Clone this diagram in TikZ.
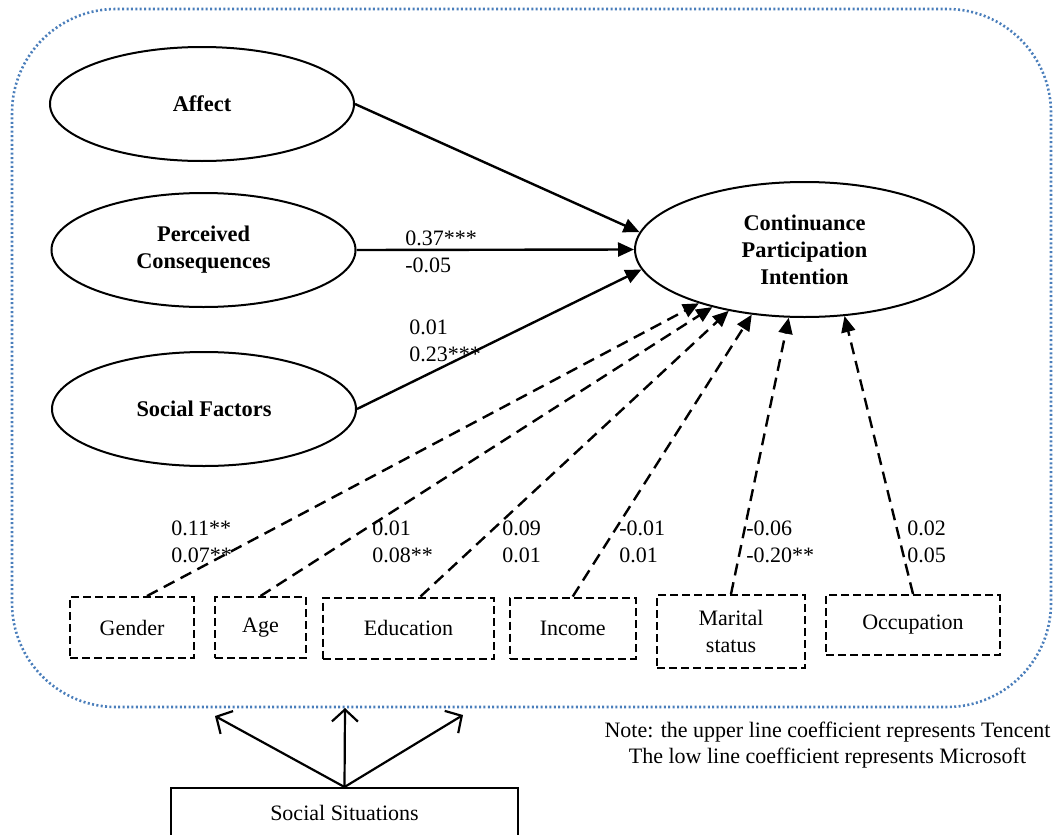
\documentclass[tikz,border=0pt]{standalone}
\usepackage{fontspec}
\setmainfont{Liberation Serif}
\usetikzlibrary{shapes.geometric,arrows.meta}
\definecolor{dotblue}{RGB}{74,126,187}
\begin{document}
\begin{tikzpicture}[x=0.5pt,y=-0.5pt,
	every node/.style={font=\fontsize{11}{13.5}\selectfont},
	latent/.style={draw,ellipse,line width=1pt,inner sep=0pt,align=center,font=\fontsize{11.2}{13.5}\selectfont\bfseries},
	ctrl/.style={draw,dash pattern=on 4pt off 2pt,line width=1pt,inner sep=0pt,align=center},
	coef/.style={anchor=west,align=left,inner sep=0pt},
	solidarr/.style={line width=1.2pt,-{Triangle[length=8pt,width=7pt]}},
	dasharr/.style={line width=1.2pt,dash pattern=on 6pt off 3.5pt,-{Triangle[length=8pt,width=7pt]}},
	openarr/.style={line width=1.1pt,-{Straight Barb[length=6pt,width=13pt]}}]
	\useasboundingbox (0,0) rectangle (1060,835);
	\draw[dotblue,line width=1.3pt,dash pattern=on 1pt off 1.2pt,rounded corners=52pt] (12,9) rectangle (1051,707);
	% constructs
	\node[latent,minimum width=152pt,minimum height=57pt] (aff) at (202,104){Affect};
	\node[latent,minimum width=152pt,minimum height=57pt] (pc) at (203.5,250){Perceived\\Consequences};
	\node[latent,minimum width=152pt,minimum height=57pt] (sf) at (204,409){Social Factors};
	\node[latent,minimum width=169.5pt,minimum height=67.5pt] (cpi) at (804.5,249.5){Continuance\\Participation\\Intention};
	% controls
	\node[ctrl,minimum width=62pt,minimum height=30.5pt] (gen) at (132,627.5){Gender};
	\node[ctrl,minimum width=45.5pt,minimum height=30.5pt] (age) at (260.5,627.5){Age};
	\node[ctrl,minimum width=85.5pt,minimum height=30.5pt] (edu) at (408.5,628){Education};
	\node[ctrl,minimum width=62.75pt,minimum height=30.5pt] (inc) at (572.75,628){Income};
	\node[ctrl,minimum width=74pt,minimum height=36.5pt] (mar) at (731,631.5){Marital\\status};
	\node[ctrl,minimum width=86.75pt,minimum height=30pt] (occ) at (913,625){Occupation};
	\node[draw,line width=1pt,minimum width=173.5pt,minimum height=25pt] (soc) at (344.5,813){Social Situations};
	\draw[solidarr] (aff.east)--(cpi.174);
	\draw[solidarr] (pc.east)--(cpi.180);
	\draw[solidarr] (sf.east)--(cpi.187);
	\draw[dasharr] ([xshift=7.5pt]gen.north)--(cpi.207);
	\draw[dasharr] (age.north)--(cpi.212);
	\draw[dasharr] ([xshift=6pt]edu.north)--(cpi.219);
	\draw[dasharr] (inc.north)--(cpi.231);
	\draw[dasharr] (mar.north)--(cpi.257);
	\draw[dasharr] (occ.north)--(cpi.301);
	% coefficients
	\node[coef] (c1) at (405,251.5){0.37***\\-0.05};
	\node[coef] (c2) at (409,340.5){0.01\\0.23***};
	\node[coef] (c3) at (171,541.5){0.11**\\0.07**};
	\node[coef] (c4) at (372,541.5){0.01\\0.08**};
	\node[coef] (c5) at (502,541.5){0.09\\0.01};
	\node[coef] (c6) at (619,541.5){-0.01\\0.01};
	\node[coef] (c7) at (746,541.5){-0.06\\-0.20**};
	\node[coef] (c8) at (907,541.5){0.02\\0.05};
	\node[align=center,font=\fontsize{11}{13}\selectfont] (note) at (827.5,745){Note: the upper line coefficient represents Tencent\\The low line coefficient represents Microsoft};
	% social situations
	\coordinate (sl) at (215,716);
	\coordinate (sm) at (345,708);
	\coordinate (sr) at (463,715);
	\draw[openarr] (soc.north)--(sl);
	\draw[openarr] (soc.north)--(sm);
	\draw[openarr] (soc.north)--(sr);
\end{tikzpicture}
\end{document}
